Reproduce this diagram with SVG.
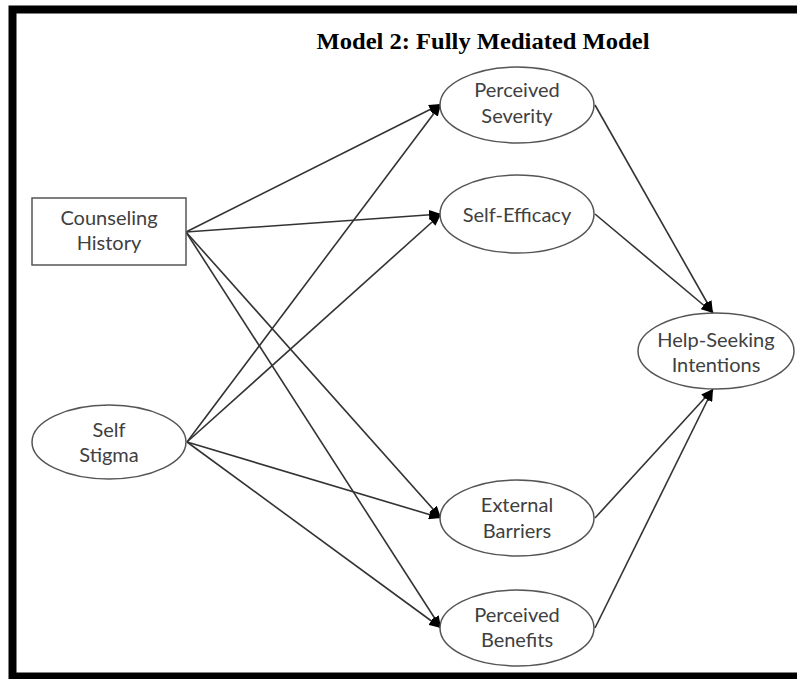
<svg xmlns="http://www.w3.org/2000/svg" width="797" height="679" viewBox="0 0 797 679">
<defs>
<marker id="arr" viewBox="0 0 12 10" refX="12" refY="5" markerWidth="12" markerHeight="10" markerUnits="userSpaceOnUse" orient="auto">
<path d="M0,0 L12,5 L0,10 z" fill="#000"/>
</marker>
</defs>
<style>
.node{fill:#fff;stroke:#555;stroke-width:1.5}
.lbl{font-family:Lato,"Open Sans",sans-serif;font-size:20px;fill:#404040;text-anchor:middle}
.edge{stroke:#333;stroke-width:1.6;fill:none;marker-end:url(#arr)}
</style>
<rect x="0" y="0" width="797" height="679" fill="#fff"/>
<rect x="12.5" y="9.5" width="800" height="667" fill="none" stroke="#000" stroke-width="8"/>
<text x="483" y="49" font-family="'Liberation Serif',serif" font-weight="bold" font-size="24" text-anchor="middle" fill="#000" textLength="333" lengthAdjust="spacingAndGlyphs">Model 2: Fully Mediated Model</text>
<g id="edges">
<line class="edge" x1="186" y1="232" x2="441" y2="104"/>
<line class="edge" x1="186" y1="232" x2="441" y2="214"/>
<line class="edge" x1="186" y1="232" x2="441" y2="518"/>
<line class="edge" x1="186" y1="232" x2="441" y2="628"/>
<line class="edge" x1="187" y1="442" x2="441" y2="104"/>
<line class="edge" x1="187" y1="442" x2="441" y2="214"/>
<line class="edge" x1="187" y1="442" x2="441" y2="518"/>
<line class="edge" x1="187" y1="442" x2="441" y2="628"/>
<line class="edge" x1="595" y1="105" x2="713" y2="313"/>
<line class="edge" x1="595" y1="214" x2="713" y2="313"/>
<line class="edge" x1="595" y1="518" x2="713" y2="389"/>
<line class="edge" x1="595" y1="628" x2="713" y2="389"/>
</g>
<g id="counseling-history">
<rect class="node" x="32" y="198" width="154" height="67"/>
<text class="lbl" x="109" y="225">Counseling</text>
<text class="lbl" x="109" y="250">History</text>
</g>
<g id="self-stigma">
<ellipse class="node" cx="109" cy="442" rx="77" ry="37"/>
<text class="lbl" x="109" y="437">Self</text>
<text class="lbl" x="109" y="462">Stigma</text>
</g>
<g id="perceived-severity">
<ellipse class="node" cx="517" cy="105" rx="77" ry="38"/>
<text class="lbl" x="517" y="97">Perceived</text>
<text class="lbl" x="517" y="123">Severity</text>
</g>
<g id="self-efficacy">
<ellipse class="node" cx="517" cy="214" rx="77" ry="39"/>
<text class="lbl" x="517" y="222">Self-Efficacy</text>
</g>
<g id="external-barriers">
<ellipse class="node" cx="517" cy="518" rx="77" ry="38"/>
<text class="lbl" x="517" y="512">External</text>
<text class="lbl" x="517" y="538">Barriers</text>
</g>
<g id="perceived-benefits">
<ellipse class="node" cx="517" cy="628" rx="77" ry="38"/>
<text class="lbl" x="517" y="622">Perceived</text>
<text class="lbl" x="517" y="647">Benefits</text>
</g>
<g id="help-seeking-intentions">
<ellipse class="node" cx="716" cy="351" rx="78" ry="38"/>
<text class="lbl" x="716" y="347">Help-Seeking</text>
<text class="lbl" x="716" y="372">Intentions</text>
</g>
</svg>
